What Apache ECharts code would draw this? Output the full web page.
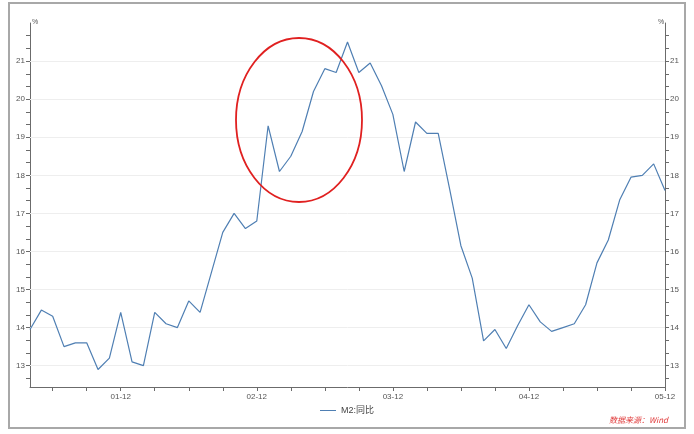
<!DOCTYPE html>
<html><head><meta charset="utf-8">
<script src="https://cdn.jsdelivr.net/npm/echarts@6/dist/echarts.min.js"></script>
<style>html,body{margin:0;padding:0;background:#fff}#c{width:694px;height:434px}</style>
</head><body><div id="c"></div>
<script>
const months = [];
(function(){ for (let y = 2001; y <= 2005; y++) for (let m = 1; m <= 12; m++) { if (y === 2001 && m < 4) continue; months.push(String(y).slice(2) + '-' + String(m).padStart(2,'0')); } })();
const m2Yoy = [13.95,14.46,14.3,13.5,13.6,13.6,12.9,13.2,14.4,13.1,13.0,
  14.4,14.1,14.0,14.7,14.4,15.45,16.5,17.0,16.6,16.8,
  19.3,18.1,18.5,19.15,20.2,20.8,20.7,21.5,20.7,20.95,20.35,19.6,
  18.1,19.4,19.1,19.1,17.65,16.15,15.3,13.65,13.95,13.45,14.05,14.6,
  14.15,13.9,14.0,14.1,14.6,15.7,16.3,17.35,17.95,18.0,18.3,17.6];
const yLabels = [13,14,15,16,17,18,19,20,21];
const yTicks = [];
for (let v = 38; v <= 65; v++) yTicks.push(+(v/3).toFixed(4));
const xLabelIdx = [8,20,32,44,56];
const seriesName = 'M2:同比';

const chart = echarts.init(document.getElementById('c'));
const ax = {
  type: 'value', min: 12.44, max: 22,
  axisLine: {show: true, lineStyle: {color: '#6b6b6b', width: 1}},
  axisTick: {show: true, length: 4, customValues: yTicks, lineStyle: {color: '#6b6b6b'}},
  axisLabel: {customValues: yLabels, color: '#555', fontSize: 8, fontFamily: 'Arial', margin: 5},
  splitLine: {show: false}
};
chart.setOption({
  animation: false,
  backgroundColor: '#fff',
  grid: {left: 30, right: 29, top: 23, bottom: 47},
  xAxis: {
    type: 'category', data: months, boundaryGap: false,
    axisLine: {lineStyle: {color: '#6b6b6b'}},
    axisTick: {length: 4, interval: (i) => i % 3 === 2, lineStyle: {color: '#6b6b6b'}},
    axisLabel: {interval: (i) => xLabelIdx.indexOf(i) >= 0, color: '#555', fontSize: 8, fontFamily: 'Arial', margin: 6, showMaxLabel: true}
  },
  yAxis: [Object.assign({position: 'left'}, ax), Object.assign({position: 'right'}, ax)],
  legend: {
    bottom: 14, left: 'center', itemWidth: 16, itemHeight: 1, itemGap: 2,
    icon: 'rect',
    textStyle: {fontSize: 9, color: '#444', fontFamily: 'Arial, "Noto Sans CJK SC"'},
    data: [seriesName]
  },
  graphic: [
    {type: 'rect', z: -1, shape: {x: 9, y: 3, width: 676, height: 425}, style: {fill: 'none', stroke: '#a8a8a8', lineWidth: 2}, silent: true},
    {type: 'text', left: 32, top: 19, style: {text: '%', fontSize: 7, fill: '#555', fontFamily: 'Arial'}},
    {type: 'text', left: 658, top: 19, style: {text: '%', fontSize: 7, fill: '#555', fontFamily: 'Arial'}},
    {type: 'text', right: 26, top: 416, style: {text: '数据来源：Wind', fontSize: 8, fill: '#e03a3a', fontStyle: 'italic', fontFamily: '"Noto Sans CJK SC", Arial'}},
    {type: 'ellipse', z: 10, shape: {cx: 299, cy: 120, rx: 63, ry: 82}, style: {fill: 'none', stroke: '#e02020', lineWidth: 1.8}, silent: true}
  ],
  series: [{
    name: seriesName, type: 'line', data: m2Yoy, showSymbol: false, yAxisIndex: 0, z: 5,
    lineStyle: {color: '#4f7fb3', width: 1.2}, itemStyle: {color: '#4f7fb3'},
    markLine: {
      silent: true, symbol: 'none', label: {show: false},
      lineStyle: {color: '#eeeeee', width: 1, type: 'solid'},
      data: yLabels.map(v => ({yAxis: v}))
    }
  }]
});
</script></body></html>
